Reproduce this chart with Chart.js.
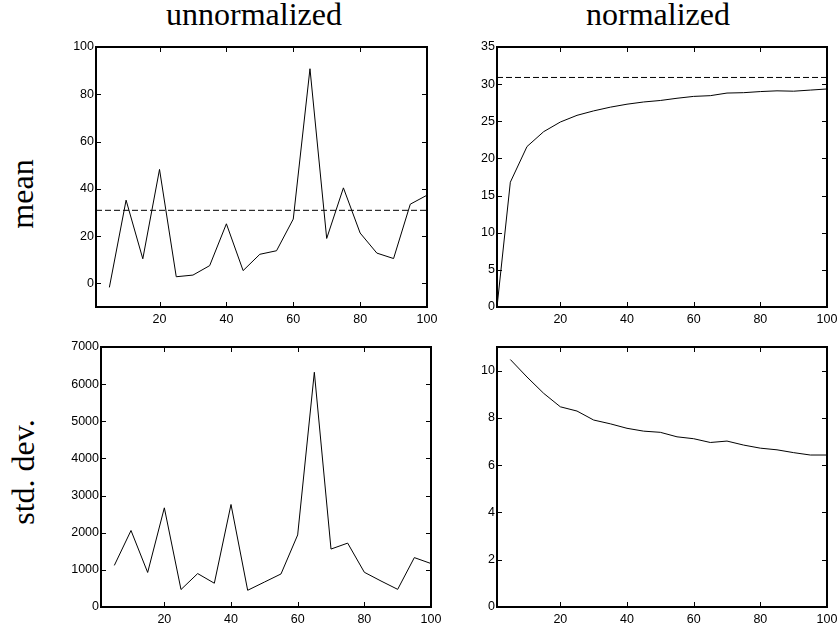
<!DOCTYPE html>
<html>
<head>
<meta charset="utf-8">
<script src="https://cdn.jsdelivr.net/npm/chart.js@4.4.1/dist/chart.umd.min.js"></script>
<style>
  html, body { margin: 0; padding: 0; background: #fff; overflow: hidden; }
  #page { position: relative; width: 839px; height: 628px; }
  canvas { position: absolute; }
  .title { position: absolute; font-family: "Liberation Serif", serif; font-size: 32px; line-height: 32px; color: #000; white-space: nowrap; text-align: center; width: 240px; }
  .rot { transform: rotate(-90deg); transform-origin: 50% 50%; }
</style>
</head>
<body>
<div id="page">
  <div class="title" style="left:134px; top:-2px;">unnormalized</div>
  <div class="title" style="left:538px; top:-2px;">normalized</div>
  <div class="title rot" style="left:-98px; top:178px;">mean</div>
  <div class="title rot" style="left:-97px; top:456px;">std. dev.</div>
  <canvas id="c1"></canvas>
  <canvas id="c2"></canvas>
  <canvas id="c3"></canvas>
  <canvas id="c4"></canvas>
</div>
<script>
// x positions (number of samples)
const steps = [5, 10, 15, 20, 25, 30, 35, 40, 45, 50, 55, 60, 65, 70, 75, 80, 85, 90, 95, 100];
const normMeanSteps = [1, 5, 10, 15, 20, 25, 30, 35, 40, 45, 50, 55, 60, 65, 70, 75, 80, 85, 90, 95, 100];

// series values
const meanRaw = [-1.7, 35.2, 10.4, 48.2, 2.8, 3.5, 7.5, 25.2, 5.4, 12.3, 13.8, 27.2, 90.8, 19.0, 40.4, 21.3, 12.8, 10.5, 33.5, 37.3];
const meanNorm = [0, 16.8, 21.6, 23.6, 24.9, 25.8, 26.4, 26.9, 27.3, 27.6, 27.8, 28.1, 28.35, 28.45, 28.8, 28.85, 29.0, 29.1, 29.05, 29.2, 29.35];
const stdRaw = [1120, 2060, 930, 2670, 470, 900, 640, 2760, 450, 670, 890, 1940, 6320, 1560, 1720, 935, 700, 475, 1330, 1170];
const stdNorm = [10.47, 9.73, 9.04, 8.47, 8.29, 7.91, 7.75, 7.56, 7.44, 7.39, 7.2, 7.12, 6.96, 7.02, 6.85, 6.72, 6.65, 6.53, 6.43, 6.43];
const trueMean = 30.9;

// tick labels
const xTicks = [20, 40, 60, 80, 100];
const meanRawTicks = [0, 20, 40, 60, 80, 100];
const meanNormTicks = [0, 5, 10, 15, 20, 25, 30, 35];
const stdRawTicks = [0, 1000, 2000, 3000, 4000, 5000, 6000, 7000];
const stdNormTicks = [0, 2, 4, 6, 8, 10];

// box + inward ticks on all four sides, like matlab
const boxTicks = {
  id: 'boxTicks',
  afterDraw(chart) {
    const { ctx, chartArea: a, scales: { x, y } } = chart;
    const len = 5;
    ctx.save();
    ctx.strokeStyle = '#000';
    ctx.lineWidth = 1;
    ctx.beginPath();
    x.ticks.forEach(t => {
      const px = Math.round(x.getPixelForValue(t.value)) + 0.5;
      ctx.moveTo(px, a.bottom); ctx.lineTo(px, a.bottom - len);
      ctx.moveTo(px, a.top); ctx.lineTo(px, a.top + len);
    });
    y.ticks.forEach(t => {
      const py = Math.round(y.getPixelForValue(t.value)) + 0.5;
      ctx.moveTo(a.left, py); ctx.lineTo(a.left + len, py);
      ctx.moveTo(a.right, py); ctx.lineTo(a.right - len, py);
    });
    ctx.stroke();
    ctx.lineWidth = 2;
    ctx.strokeRect(a.left, a.top, a.width, a.height);
    ctx.restore();
  }
};

const tickFont = { family: '"Liberation Sans", Arial, sans-serif', size: 12.5 };

function toPoints(xs, ys) {
  return xs.map((v, i) => ({ x: v, y: ys[i] }));
}

function makePanel(id, area, xs, ys, yMin, yMax, yTicks, refLine) {
  const padL = 60, padT = 12, padR = 20, padB = 30;
  const canvas = document.getElementById(id);
  const w = area.R - area.L + padL + padR;
  const h = area.B - area.T + padT + padB;
  canvas.width = w; canvas.height = h;
  canvas.style.width = w + 'px'; canvas.style.height = h + 'px';
  canvas.style.left = (area.L - padL) + 'px';
  canvas.style.top = (area.T - padT) + 'px';

  const datasets = [{
    data: toPoints(xs, ys),
    borderColor: '#000',
    borderWidth: 1,
    pointRadius: 0,
    tension: 0
  }];
  if (refLine !== undefined) {
    datasets.push({
      data: [{ x: 1, y: refLine }, { x: 100, y: refLine }],
      borderColor: '#000',
      borderWidth: 1,
      borderDash: [6, 3],
      pointRadius: 0
    });
  }

  new Chart(canvas, {
    type: 'line',
    data: { datasets },
    options: {
      responsive: false,
      maintainAspectRatio: false,
      devicePixelRatio: 1,
      animation: false,
      events: [],
      layout: { padding: { left: 0, top: padT, right: padR, bottom: 0 } },
      plugins: { legend: { display: false }, tooltip: { enabled: false } },
      scales: {
        x: {
          type: 'linear',
          min: 1, max: 100,
          grid: { display: false, drawTicks: false },
          border: { display: false },
          afterBuildTicks: s => { s.ticks = xTicks.map(v => ({ value: v })); },
          afterFit: s => { s.height = padB; },
          ticks: { color: '#000', font: tickFont, padding: 5, maxRotation: 0, callback: v => String(v) }
        },
        y: {
          type: 'linear',
          min: yMin, max: yMax,
          grid: { display: false, drawTicks: false },
          border: { display: false },
          afterBuildTicks: s => { s.ticks = yTicks.map(v => ({ value: v })); },
          afterFit: s => { s.width = padL; },
          ticks: { color: '#000', font: tickFont, padding: 2, callback: v => String(v) }
        }
      }
    },
    plugins: [boxTicks]
  });
}

makePanel('c1', { L: 96, T: 47, R: 427, B: 307 }, steps, meanRaw, -10, 100, meanRawTicks, trueMean);
makePanel('c2', { L: 497, T: 47, R: 827, B: 307 }, normMeanSteps, meanNorm, 0, 35, meanNormTicks, trueMean);
makePanel('c3', { L: 101, T: 347, R: 431, B: 607 }, steps, stdRaw, 0, 7000, stdRawTicks);
makePanel('c4', { L: 497, T: 347, R: 827, B: 607 }, steps, stdNorm, 0, 11, stdNormTicks);
</script>
</body>
</html>
